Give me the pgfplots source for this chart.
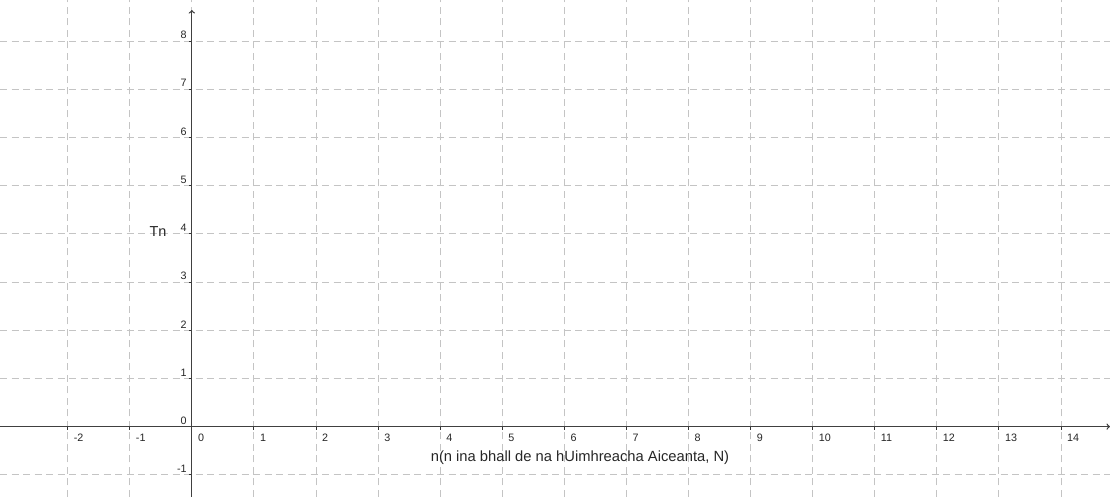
\documentclass[border=0pt]{standalone}
\usepackage{pgfplots}
\pgfplotsset{compat=1.18}
\usepackage{fontspec}
\setmainfont{Liberation Sans}
\begin{document}
\begin{tikzpicture}
\useasboundingbox (0,0) rectangle (1110bp,497bp);
\begin{axis}[
  at={(0,0)}, anchor=south west,
  scale only axis, width=1110bp, height=497bp,
  xmin=-3.09, xmax=14.79, ymin=-1.46, ymax=8.85,
  axis lines=middle,
  axis line style={draw=black!75, line width=1.3bp, ->},
  y axis line style={shorten >=10bp},
  xtick={-2,...,14}, ytick={-1,...,8},
  xticklabels={-2,-1,0,1,2,3,4,5,6,7,8,9,10,11,12,13,14},
  yticklabels={-1,0,1,2,3,4,5,6,7,8},
  hide obscured x ticks=false, hide obscured y ticks=false,
  grid=major,
  major grid style={draw=black!23, dash pattern=on 7bp off 4.5bp, line width=0.9bp},
  tick align=outside, major tick length=3bp,
  tick style={draw=black!80, line width=0.9bp},
  x tick label style={anchor=north west, text=black!85, font=\fontsize{10.8}{12}\selectfont, inner sep=1bp, xshift=5bp, yshift=-3bp},
  y tick label style={anchor=south east, text=black!85, font=\fontsize{10.8}{12}\selectfont, inner sep=1bp, xshift=-1bp, yshift=1bp},
  xlabel={n(n ina bhall de na hUimhreacha Aiceanta, N)},
  ylabel={Tn},
  xlabel style={at={(axis description cs:0.5225,0.0785)}, anchor=center, text=black!85, font=\fontsize{14.8}{16}\selectfont},
  ylabel style={at={(axis description cs:0.1423,0.535)}, anchor=center, rotate=0, text=black!85, font=\fontsize{14.5}{16}\selectfont},
]
\end{axis}
\end{tikzpicture}
\end{document}
